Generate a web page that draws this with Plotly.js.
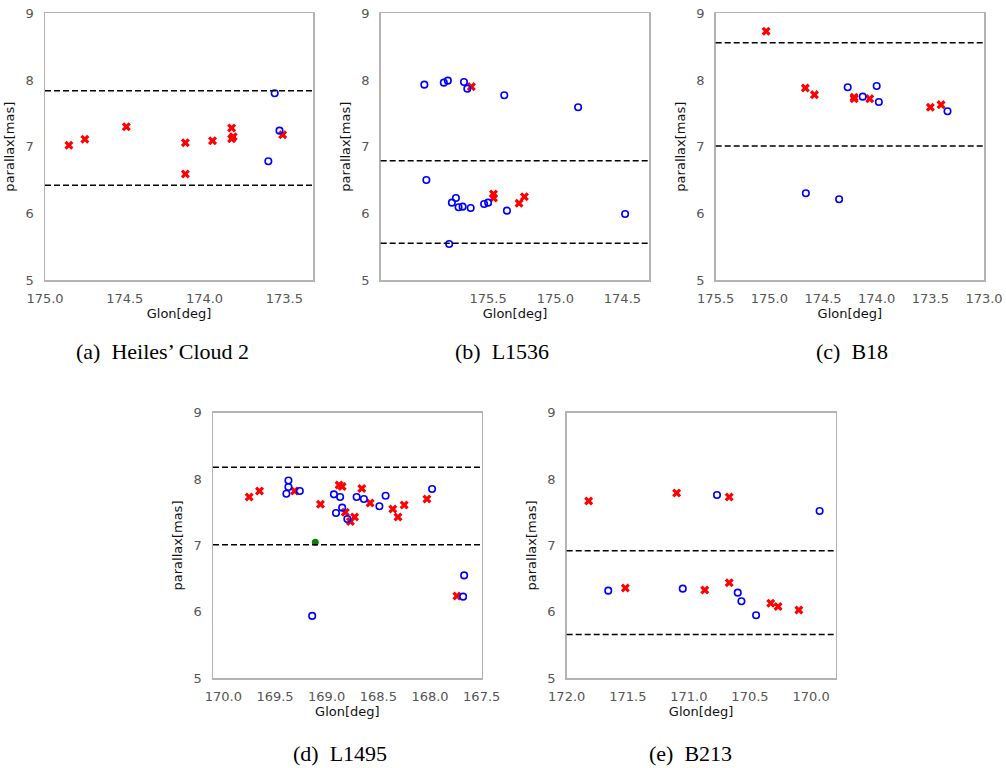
<!DOCTYPE html>
<html>
<head>
<meta charset="utf-8">
<script src="https://cdn.plot.ly/plotly-3.0.1.min.js"></script>
<style>
  html, body { margin: 0; padding: 0; background: #ffffff; }
  #chart { width: 1006px; height: 768px; }
</style>
</head>
<body>
<div id="chart"></div>
<script>
// ---------- Data ----------
// (a) Heiles' Cloud 2
const aRedGlon  = [174.85, 174.75, 174.49, 174.12, 174.12, 173.95, 173.83, 173.82, 173.83, 173.51];
const aRedPlx   = [7.02, 7.11, 7.30, 7.06, 6.59, 7.09, 7.28, 7.15, 7.12, 7.18];
const aBlueGlon = [173.56, 173.53, 173.60];
const aBluePlx  = [7.80, 7.24, 6.78];
const aLimits   = [7.84, 6.42];

// (b) L1536
const bRedGlon  = [175.625, 175.46, 175.46, 175.27, 175.23];
const bRedPlx   = [7.90, 6.29, 6.23, 6.15, 6.25];
const bBlueGlon = [175.975, 175.83, 175.80, 175.68, 175.655, 175.38, 174.83, 175.96, 175.74, 175.77,
                   175.72, 175.69, 175.63, 175.53, 175.50, 175.36, 174.48, 175.79];
const bBluePlx  = [7.93, 7.96, 7.99, 7.97, 7.87, 7.77, 7.59, 6.50, 6.23, 6.16,
                   6.09, 6.10, 6.08, 6.14, 6.16, 6.04, 5.99, 5.54];
const bLimits   = [6.79, 5.55];

// (c) B18
const cRedGlon  = [175.03, 174.665, 174.58, 174.21, 174.21, 174.065, 173.50, 173.40];
const cRedPlx   = [8.73, 7.88, 7.78, 7.74, 7.72, 7.72, 7.59, 7.63];
const cBlueGlon = [174.27, 174.13, 174.00, 173.98, 173.34, 174.66, 174.35];
const cBluePlx  = [7.89, 7.75, 7.91, 7.67, 7.53, 6.30, 6.21];
const cLimits   = [8.56, 7.01];

// (d) L1495
const dRedGlon  = [169.75, 169.65, 169.31, 169.06, 168.88, 168.85, 168.82, 168.77, 168.73, 168.66,
                   168.58, 168.36, 168.31, 168.25, 168.03, 167.74];
const dRedPlx   = [7.73, 7.82, 7.82, 7.62, 7.91, 7.89, 7.50, 7.36, 7.43, 7.86,
                   7.64, 7.55, 7.43, 7.61, 7.70, 6.24];
const dBlueGlon = [169.37, 169.37, 169.39, 169.26, 168.93, 168.87, 168.85, 168.91, 168.80, 168.71,
                   168.64, 168.49, 168.43, 167.98, 167.67, 167.68, 169.14];
const dBluePlx  = [7.98, 7.88, 7.78, 7.82, 7.77, 7.73, 7.57, 7.49, 7.40, 7.73,
                   7.70, 7.59, 7.75, 7.85, 6.55, 6.23, 5.94];
const dGreenGlon = [169.11];
const dGreenPlx  = [7.05];
const dLimits   = [8.18, 7.01];

// (e) B213
const eRedGlon  = [171.82, 171.10, 170.67, 171.52, 170.87, 170.67, 170.33, 170.27, 170.10];
const eRedPlx   = [7.67, 7.79, 7.73, 6.36, 6.33, 6.44, 6.13, 6.08, 6.03];
const eBlueGlon = [170.77, 169.93, 171.66, 171.05, 170.60, 170.57, 170.45];
const eBluePlx  = [7.76, 7.52, 6.32, 6.35, 6.29, 6.16, 5.95];
const eLimits   = [6.92, 5.66];

// Axis ranges and tick labels
const xRanges = {
  a: [175.0, 173.32],
  b: [176.3, 174.3],
  c: [175.5, 173.0],
  d: [170.1, 167.5],
  e: [172.0, 169.8]
};
const xTicks = {
  a: [175.0, 174.5, 174.0, 173.5],
  b: [175.5, 175.0, 174.5],
  c: [175.5, 175.0, 174.5, 174.0, 173.5, 173.0],
  d: [170.0, 169.5, 169.0, 168.5, 168.0, 167.5],
  e: [172.0, 171.5, 171.0, 170.5, 170.0]
};
const yRange = [5, 9];
const yTicks = [5, 6, 7, 8, 9];
const captions = ["(a)  Heiles’ Cloud 2", "(b)  L1536", "(c)  B18", "(d)  L1495", "(e)  B213"];
const xTitle = "Glon[deg]";
const yTitle = "parallax[mas]";

// ---------- Layout geometry (pixels -> paper) ----------
const W = 1006, H = 768;
const panels = [
  {key: 'a', x0: 45,    x1: 313,   y0: 13.3,  y1: 280,   red: [aRedGlon, aRedPlx], blue: [aBlueGlon, aBluePlx], lim: aLimits, cap: [162, 351]},
  {key: 'b', x0: 380.7, x1: 649.3, y0: 13.3,  y1: 280,   red: [bRedGlon, bRedPlx], blue: [bBlueGlon, bBluePlx], lim: bLimits, cap: [502, 351]},
  {key: 'c', x0: 715.7, x1: 984,   y0: 13.3,  y1: 280,   red: [cRedGlon, cRedPlx], blue: [cBlueGlon, cBluePlx], lim: cLimits, cap: [852, 351]},
  {key: 'd', x0: 213,   x1: 481.7, y0: 412.7, y1: 678.3, red: [dRedGlon, dRedPlx], blue: [dBlueGlon, dBluePlx], lim: dLimits, cap: [340, 753],
   green: [dGreenGlon, dGreenPlx]},
  {key: 'e', x0: 566.7, x1: 835.5, y0: 412.7, y1: 678.3, red: [eRedGlon, eRedPlx], blue: [eBlueGlon, eBluePlx], lim: eLimits, cap: [690, 753]}
];

const traces = [];
const layout = {
  width: W, height: H,
  margin: {l: 0, r: 0, t: 0, b: 0},
  paper_bgcolor: '#ffffff',
  plot_bgcolor: '#ffffff',
  showlegend: false,
  font: {family: 'DejaVu Sans', size: 12, color: '#222222'},
  shapes: [],
  annotations: []
};

panels.forEach((p, i) => {
  const n = i === 0 ? '' : String(i + 1);
  const xa = 'x' + n, ya = 'y' + n;
  layout['xaxis' + n] = {
    domain: [p.x0 / W, p.x1 / W],
    anchor: ya,
    range: xRanges[p.key],
    tickmode: 'array',
    tickvals: xTicks[p.key],
    tickformat: '.1f',
    showgrid: false, zeroline: false,
    showline: true, mirror: true, linecolor: '#b3b3b3', linewidth: 1.5,
    ticks: '',
    ticklabelstandoff: 6,
    tickfont: {family: 'DejaVu Sans', size: 13, color: '#555555'},
    title: {text: xTitle, font: {family: 'DejaVu Sans', size: 13, color: '#111111'}, standoff: 3},
    automargin: false, fixedrange: true
  };
  layout['yaxis' + n] = {
    domain: [1 - p.y1 / H, 1 - p.y0 / H],
    anchor: xa,
    range: yRange,
    tickmode: 'array',
    tickvals: yTicks,
    showgrid: false, zeroline: false,
    showline: true, mirror: true, linecolor: '#b3b3b3', linewidth: 1.5,
    ticks: '',
    ticklabelstandoff: 7,
    tickfont: {family: 'DejaVu Sans', size: 13, color: '#555555'},
    title: {text: yTitle, font: {family: 'DejaVu Sans', size: 13, color: '#111111'}, standoff: 8},
    automargin: false, fixedrange: true
  };
  p.lim.forEach(v => {
    layout.shapes.push({
      type: 'line', xref: xa + ' domain', yref: ya,
      x0: 0, x1: 1, y0: v, y1: v,
      line: {color: '#000000', width: 1.5, dash: '6px,3px'}
    });
  });
  traces.push({
    type: 'scatter', mode: 'markers', xaxis: xa, yaxis: ya,
    x: p.red[0], y: p.red[1], name: 'red',
    marker: {symbol: 'x', size: 8, color: '#ff0000', line: {width: 0}},
    hoverinfo: 'x+y'
  });
  traces.push({
    type: 'scatter', mode: 'markers', xaxis: xa, yaxis: ya,
    x: p.blue[0], y: p.blue[1], name: 'blue',
    marker: {symbol: 'circle-open', size: 6.5, color: '#0000ff', line: {width: 1.6, color: '#0000ff'}},
    hoverinfo: 'x+y'
  });
  if (p.green) {
    traces.push({
      type: 'scatter', mode: 'markers', xaxis: xa, yaxis: ya,
      x: p.green[0], y: p.green[1], name: 'green',
      marker: {symbol: 'circle', size: 7, color: '#0a800a'},
      hoverinfo: 'x+y'
    });
  }
  layout.annotations.push({
    xref: 'paper', yref: 'paper',
    x: p.cap[0] / W, y: 1 - p.cap[1] / H,
    xanchor: 'center', yanchor: 'middle',
    text: captions[i], showarrow: false,
    font: {family: 'Liberation Serif', size: 22, color: '#000000'}
  });
});

Plotly.newPlot('chart', traces, layout, {displayModeBar: false, staticPlot: true});
</script>
</body>
</html>
